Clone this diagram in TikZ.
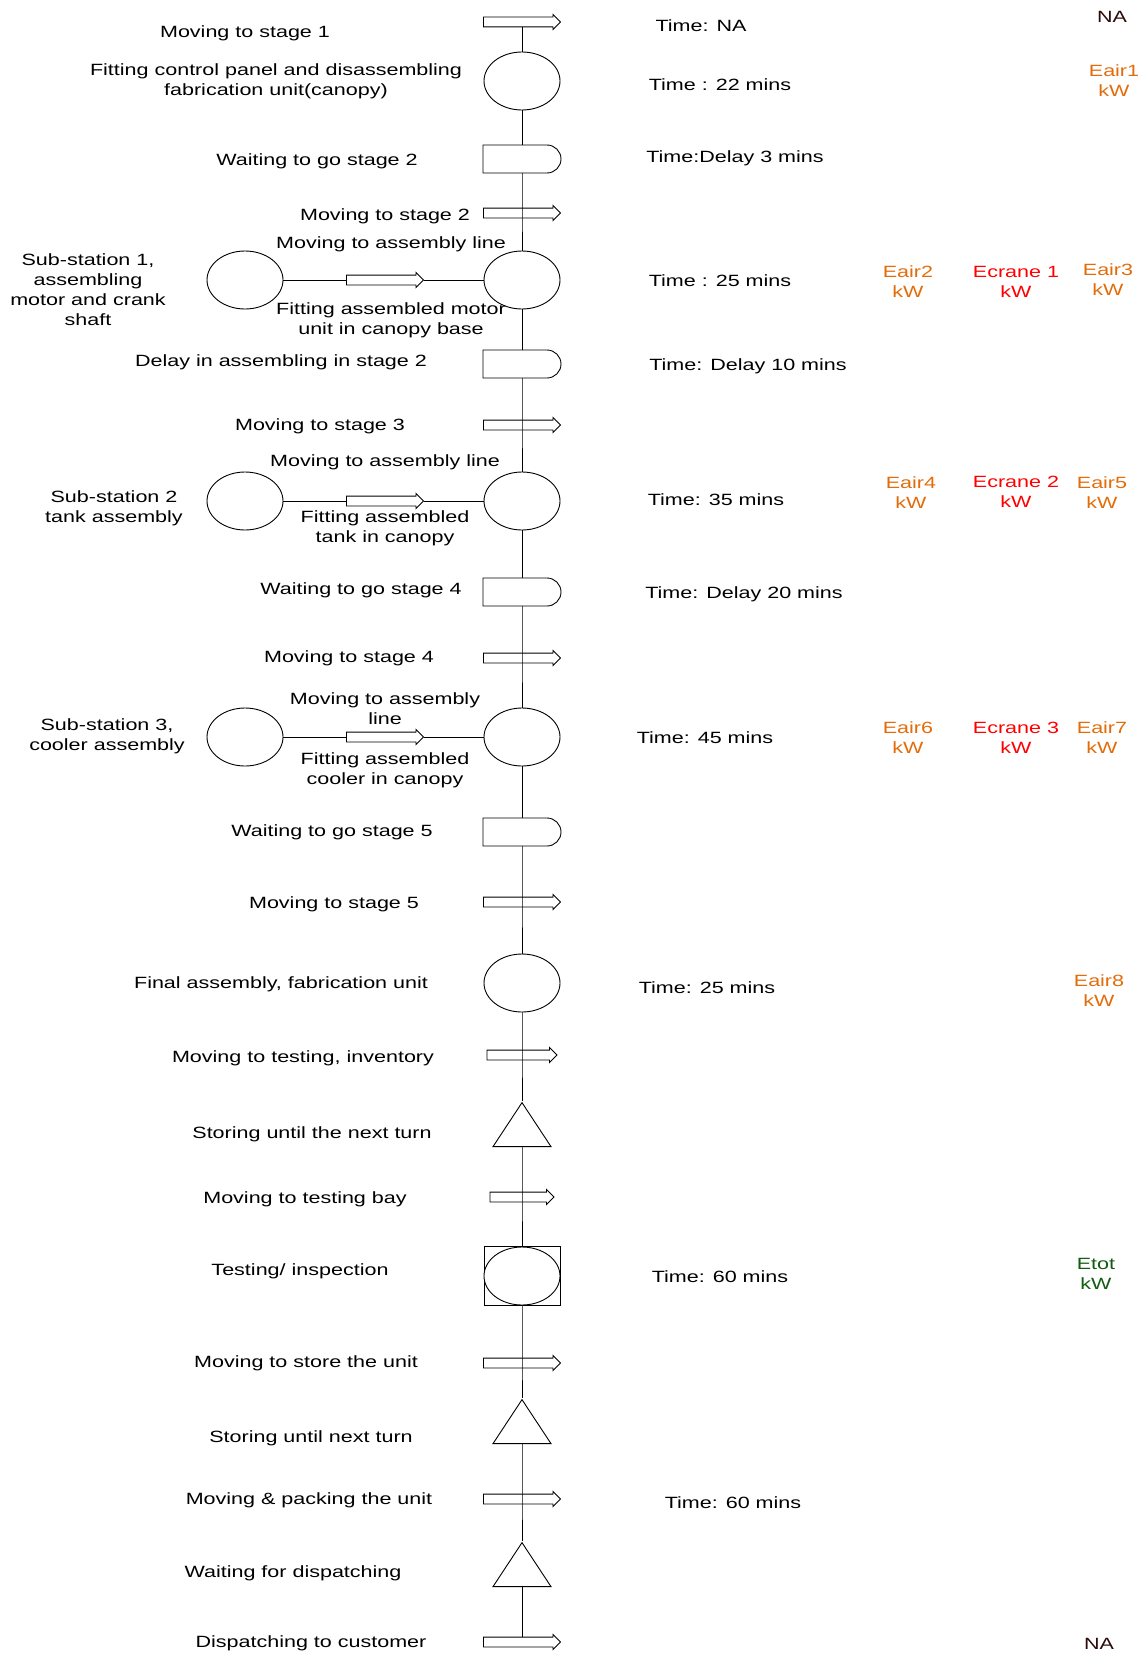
\documentclass[tikz,border=0pt]{standalone}
\usepackage{fontspec}
\setmainfont{Liberation Sans}[FakeStretch=1.32]
\usetikzlibrary{shapes.geometric,shapes.arrows,shapes.misc}
\definecolor{airorange}{HTML}{E36C0A}
\definecolor{cranered}{HTML}{FF0000}
\definecolor{totgreen}{HTML}{125C12}
\definecolor{nabrown}{HTML}{2B0A0A}

\begin{document}
\begin{tikzpicture}[
  x=1pt, y=-1pt,
  font=\fontsize{16.3}{20}\selectfont,
  stepop/.style={ellipse, draw, fill=white, line width=0.9pt, minimum width=76pt, minimum height=58pt, inner sep=0pt},
  stepwait/.style={rounded rectangle, rounded rectangle left arc=none, draw, fill=white, line width=0.9pt, minimum width=78pt, minimum height=28pt, inner sep=0pt},
  stepmove/.style={single arrow, draw, fill=white, line width=0.9pt, single arrow head extend=2.5pt, minimum height=77pt, inner xsep=0pt, inner ysep=4.5pt, xshift=-2.5pt},
  stepstore/.style={isosceles triangle, isosceles triangle stretches, shape border rotate=90, draw, fill=white, line width=0.9pt, minimum width=58pt, minimum height=44pt, inner sep=0pt},
  stepcheck/.style={rectangle, draw, line width=0.9pt, minimum width=76pt, minimum height=59pt, inner sep=0pt},
  flow/.style={line width=0.9pt},
  lbl/.style={align=center, inner sep=0pt, yshift=-1.5pt},
  eair/.style={lbl, text=airorange},
  ecrane/.style={lbl, text=cranered}
]
  \useasboundingbox (0,0) rectangle (1144,1654);

  % === MAIN LINE ===
  \node[stepmove] (a1) at (522,22) {};
  \node[stepop] (e1) at (522,81) {};
  \node[stepwait] (d1) at (522,159) {};
  \node[stepmove] (a2) at (522,213) {};
  \node[stepop] (e2) at (522,280) {};
  \node[stepwait] (d2) at (522,364) {};
  \node[stepmove] (a3) at (522,425) {};
  \node[stepop] (e3) at (522,501) {};
  \node[stepwait] (d3) at (522,592) {};
  \node[stepmove] (a4) at (522,658) {};
  \node[stepop] (e4) at (522,737) {};
  \node[stepwait] (d4) at (522,832) {};
  \node[stepmove] (a5) at (522,902) {};
  \node[stepop] (e5) at (522,983) {};
  \node[stepmove, minimum height=70pt] (a6) at (522,1055) {};
  \node[stepstore] (t1) at (522,1131) {};
  \node[stepmove, minimum height=64pt] (a7) at (522,1197) {};
  \node[stepcheck] (chk) at (522,1276) {};
  \node[stepop] (chkop) at (chk) {};
  \node[stepmove] (a8) at (522,1363) {};
  \node[stepstore] (t2) at (522,1428) {};
  \node[stepmove] (a9) at (522,1499) {};
  \node[stepstore] (t3) at (522,1571) {};
  \node[stepmove] (a10) at (522,1642) {};

  \draw[flow] (a1.south -| e1) -- (e1) -- (d1) -- (a2.center -| e1) -- (e2) -- (d2)
    -- (a3.center -| e1) -- (e3) -- (d3) -- (a4.center -| e1) -- (e4) -- (d4)
    -- (a5.center -| e1) -- (e5) -- (a6.center -| e1) -- (t1) -- (a7.center -| e1)
    -- (chk) -- (a8.center -| e1) -- (t2) -- (a9.center -| e1) -- (t3)
    -- (a10.north -| e1);

  % === SUB-STATIONS ===
  \node[stepop] (ss1) at (245,280) {};
  \node[stepmove] (sa1) at (385,280) {};
  \draw[flow] (ss1) -- (sa1) -- (e2);
  \node[stepop] (ss2) at (245,501) {};
  \node[stepmove] (sa2) at (385,501) {};
  \draw[flow] (ss2) -- (sa2) -- (e3);
  \node[stepop] (ss3) at (245,737) {};
  \node[stepmove] (sa3) at (385,737) {};
  \draw[flow] (ss3) -- (sa3) -- (e4);

  % === LEFT LABELS ===
  \node[lbl] (l1) at (245,32) {Moving to stage 1};
  \node[lbl] (l2) at (276,80) {Fitting control panel and disassembling\\fabrication unit(canopy)};
  \node[lbl] (l3) at (317,160) {Waiting to go stage 2};
  \node[lbl] (l4) at (385,215) {Moving to stage 2};
  \node[lbl] (l5) at (391,243) {Moving to assembly line};
  \node[lbl] (l6) at (391,319) {Fitting assembled motor\\unit in canopy base};
  \node[lbl] (l7) at (88,288) {Sub-station 1,\\assembling\\motor and crank\\shaft};
  \node[lbl] (l8) at (281,361) {Delay in assembling in stage 2};
  \node[lbl] (l9) at (320,425) {Moving to stage 3};
  \node[lbl] (l10) at (385,461) {Moving to assembly line};
  \node[lbl] (l11) at (385,527) {Fitting assembled\\tank in canopy};
  \node[lbl] (l12) at (114,507) {Sub-station 2\\tank assembly};
  \node[lbl] (l13) at (361,589) {Waiting to go stage 4};
  \node[lbl] (l14) at (349,657) {Moving to stage 4};
  \node[lbl] (l15) at (385,707) {Moving to assembly\\line};
  \node[lbl] (l16) at (385,769) {Fitting assembled\\cooler in canopy};
  \node[lbl] (l17) at (107,735) {Sub-station 3,\\cooler assembly};
  \node[lbl] (l18) at (332,831) {Waiting to go stage 5};
  \node[lbl] (l19) at (334,903) {Moving to stage 5};
  \node[lbl] (l20) at (281,983) {Final assembly, fabrication unit};
  \node[lbl] (l21) at (303,1057) {Moving to testing, inventory};
  \node[lbl] (l22) at (312,1133) {Storing until the next turn};
  \node[lbl] (l23) at (305,1198) {Moving to testing bay};
  \node[lbl] (l24) at (300,1270) {Testing/ inspection};
  \node[lbl] (l25) at (306,1362) {Moving to store the unit};
  \node[lbl] (l26) at (311,1437) {Storing until next turn};
  \node[lbl] (l27) at (309,1499) {Moving \& packing the unit};
  \node[lbl] (l28) at (293,1572) {Waiting for dispatching};
  \node[lbl] (l29) at (311,1642) {Dispatching to customer};

  % === TIMES ===
  \node[lbl] (r1) at (701,24) {Time: NA};
  \node[lbl] (r2) at (720,83) {Time : 22 mins};
  \node[lbl] (r3) at (735,157) {Time:Delay 3 mins};
  \node[lbl] (r4) at (720,279) {Time : 25 mins};
  \node[lbl] (r5) at (748,365) {Time: Delay 10 mins};
  \node[lbl] (r6) at (716,498) {Time: 35 mins};
  \node[lbl] (r7) at (744,593) {Time: Delay 20 mins};
  \node[lbl] (r8) at (705,736) {Time: 45 mins};
  \node[lbl] (r9) at (707,986) {Time: 25 mins};
  \node[lbl] (r10) at (720,1275) {Time: 60 mins};
  \node[lbl] (r11) at (733,1501) {Time: 60 mins};

  % === ENERGY ===
  \node[lbl, text=nabrown] (na1) at (1112,15) {NA};
  \node[eair] (ea1) at (1114,79) {Eair1\\kW};
  \node[eair] (ea2) at (908,280) {Eair2\\kW};
  \node[ecrane] (ec1) at (1016,280) {Ecrane 1\\kW};
  \node[eair] (ea3) at (1108,278) {Eair3\\kW};
  \node[eair] (ea4) at (911,491) {Eair4\\kW};
  \node[ecrane] (ec2) at (1016,490) {Ecrane 2\\kW};
  \node[eair] (ea5) at (1102,491) {Eair5\\kW};
  \node[eair] (ea6) at (908,736) {Eair6\\kW};
  \node[ecrane] (ec3) at (1016,736) {Ecrane 3\\kW};
  \node[eair] (ea7) at (1102,736) {Eair7\\kW};
  \node[eair] (ea8) at (1099,989) {Eair8\\kW};
  \node[lbl, text=totgreen] (etot) at (1096,1272) {Etot\\kW};
  \node[lbl, text=nabrown] (na2) at (1099,1642) {NA};
\end{tikzpicture}
\end{document}
